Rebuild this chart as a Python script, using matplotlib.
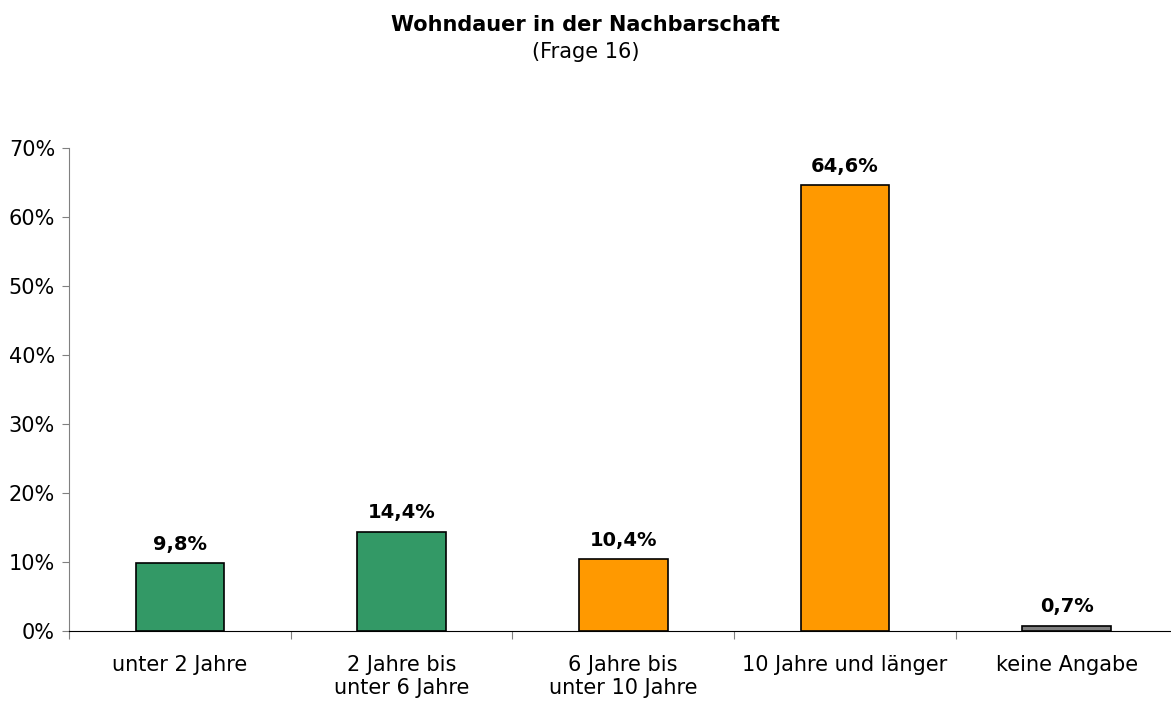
import matplotlib
matplotlib.use("Agg")
import matplotlib.pyplot as plt
from matplotlib.ticker import FuncFormatter

categories = ["unter 2 Jahre", "2 Jahre bis\nunter 6 Jahre", "6 Jahre bis\nunter 10 Jahre",
              "10 Jahre und länger", "keine Angabe"]
values = [9.8, 14.4, 10.4, 64.6, 0.7]
colors = ["#339966", "#339966", "#FF9900", "#FF9900", "#808080"]
labels = ["9,8%", "14,4%", "10,4%", "64,6%", "0,7%"]

plt.rcParams["font.family"] = "DejaVu Sans"

fig = plt.figure(figsize=(11.71, 7.06), dpi=100)
W, H = 1171, 706
x0, x1 = 69, 1177.5
y0, y1 = 631, 148
ax = fig.add_axes([x0 / W, 1 - y0 / H, (x1 - x0) / W, (y0 - y1) / H])

pos = list(range(len(values)))
ax.bar(pos, values, width=0.4, color=colors, edgecolor="black", linewidth=1.2, zorder=3)
for p, v, t in zip(pos, values, labels):
    ax.annotate(t, (p, v), xytext=(0, 7), textcoords="offset points",
                ha="center", va="bottom", fontsize=14, fontweight="bold")

ax.set_xlim(-0.5, len(values) - 0.5)
ax.set_ylim(0, 70)
ax.set_yticks(range(0, 71, 10))
ax.yaxis.set_major_formatter(FuncFormatter(lambda v, _: f"{v:.0f}%"))
ax.tick_params(axis="y", labelsize=15, length=5, color="#808080", pad=5)

ax.set_xticks([p - 0.5 for p in pos] + [len(values) - 0.5])
ax.set_xticklabels([])
ax.set_xticks(pos, minor=True)
ax.set_xticklabels(categories, minor=True, fontsize=15)
ax.tick_params(axis="x", which="major", length=6, color="#808080")
ax.tick_params(axis="x", which="minor", length=0, pad=17)

for s in ["top", "right"]:
    ax.spines[s].set_visible(False)
ax.spines["left"].set_color("#808080")
ax.spines["bottom"].set_color("black")

fig.text(0.5, 1 - 25 / H, "Wohndauer in der Nachbarschaft", ha="center", va="center",
         fontsize=15, fontweight="bold")
fig.text(0.5, 1 - 52 / H, "(Frage 16)", ha="center", va="center", fontsize=15)

fig.savefig("out.png", dpi=100)
